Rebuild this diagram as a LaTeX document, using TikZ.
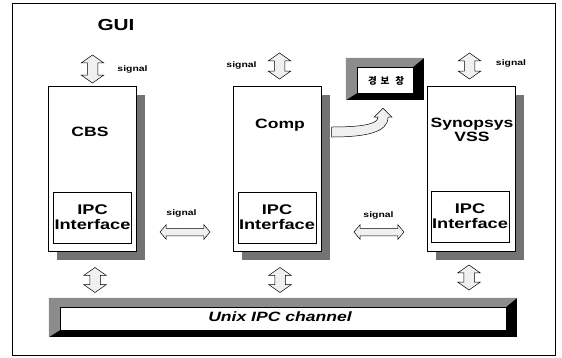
\documentclass[tikz,border=0pt]{standalone}
\usepackage{fontspec}
\setmainfont{Liberation Sans}
\newfontfamily\figfont[FakeStretch=1.3]{Liberation Sans}
\newfontfamily\krfont[LetterSpace=40]{Noto Sans CJK KR}
\usetikzlibrary{shapes.arrows,shadows,calc,positioning}

% gray/black bevel round a node
\newcommand\bevelframe[1]{%
  \fill[black!45] (#1.north west) -- (#1.north east) -- ([shift={(-11pt,-9pt)}]#1.north east)
    -- ([shift={(11pt,-9pt)}]#1.north west) -- ([shift={(11pt,7pt)}]#1.south west) -- (#1.south west) -- cycle;
  \fill[white] ([shift={(11pt,-9pt)}]#1.north west) rectangle ([shift={(-11pt,7pt)}]#1.south east);
  \draw[line width=0.4pt] ([shift={(11pt,-9pt)}]#1.north west) rectangle ([shift={(-11pt,7pt)}]#1.south east);
}

\begin{document}
\begin{tikzpicture}[x=1pt,y=-1pt,
  mainbox/.style={draw, fill=white, line width=0.6pt, minimum width=88pt, minimum height=165pt,
    inner sep=0pt, anchor=north west,
    drop shadow={shadow xshift=9pt, shadow yshift=-9pt, fill=black!55, opacity=1}},
  ipcbox/.style={draw, line width=0.6pt, minimum width=78pt, minimum height=51pt, inner sep=0pt,
    align=center, font=\figfont\bfseries\fontsize{14}{15}\selectfont},
  barbox/.style={fill=black, inner sep=0pt},
  lbl/.style={font=\figfont\bfseries\fontsize{13.5}{14}\selectfont, align=center, inner sep=0pt},
  sig/.style={font=\figfont\bfseries\fontsize{8}{9}\selectfont, inner sep=0pt},
  vsig/.style={double arrow, draw, fill=black!6, line width=0.5pt, rotate=90, inner xsep=0pt, inner ysep=5pt,
    minimum height=26pt, double arrow head extend=6pt, double arrow tip angle=110},
  hsig/.style={double arrow, draw, fill=black!6, line width=0.5pt, inner xsep=0pt, inner ysep=3.5pt,
    minimum height=50pt, double arrow head extend=3.5pt, double arrow tip angle=100}
]
\useasboundingbox (0,0) rectangle (562,357);

% outer frame
\draw[line width=0.7pt] (12,3) rectangle (555,355);

\node[font=\figfont\bfseries\fontsize{16}{16}\selectfont, inner sep=0pt] (gui) at (116,25) {GUI};

% the three tasks
\node[mainbox] (cbs) at (48,86) {};
\node[mainbox] (comp) at (233,86) {};
\node[mainbox] (vss) at (427,86) {};

\node[lbl] (cbs-t) at (90,132) {CBS};
\node[lbl] (comp-t) at (280,125) {Comp};
\node[lbl] (vss-t) at (472,130) {Synopsys\\VSS};

\node[ipcbox] (cbs-ipc) at (92.5,217.5) {IPC\\Interface};
\node[ipcbox] (comp-ipc) at (277,217.5) {IPC\\Interface};
\node[ipcbox] (vss-ipc) at (470,216.5) {IPC\\Interface};

% signals to the GUI
\node[vsig, minimum height=28pt] (up-cbs) at (92.5,69) {};
\node[vsig] (up-comp) at (279.5,66) {};
\node[vsig] (up-vss) at (469.5,66) {};
\node[sig] (s-cbs) at (132.5,69) {signal};
\node[sig] (s-comp) at (241.5,65) {signal};
\node[sig] (s-vss) at (511,63) {signal};

% signals between the interfaces
\node[hsig] (mid-a) at (185,232) {};
\node[hsig] (mid-b) at (379,232) {};
\node[sig] (s-mid-a) at (181.5,213) {signal};
\node[sig] (s-mid-b) at (378.5,215) {signal};

% alarm window
\node[barbox, minimum width=78pt, minimum height=42pt] (alarm) at (385,79) {};
\bevelframe{alarm}
\node[font=\krfont\bfseries\fontsize{9.5}{10}\selectfont, inner sep=0pt] (alarm-t) at (386,81) {경보 창};

% curved arrow Comp -> alarm
\coordinate (ctip) at ([xshift=-2pt,yshift=-8pt]alarm.south);
\coordinate (cstart) at ([xshift=10pt]comp.north east);
\draw[fill=black!6, line width=0.5pt] ($(cstart)+(0,51)$) .. controls +(35,0) and +(0,15) .. ($(ctip)+(5,9)$)
  -- ($(ctip)+(9,9)$) -- (ctip) -- ($(ctip)+(-9,9)$) -- ($(ctip)+(-5,9)$)
  .. controls +(0,7) and +(30,0) .. ($(cstart)+(0,41)$) -- cycle;

% IPC channel
\node[barbox, minimum width=468pt, minimum height=39pt] (chan) at (283,317.5) {};
\bevelframe{chan}
\node[font=\figfont\bfseries\itshape\fontsize{13.5}{14}\selectfont, inner sep=0pt] (chan-t) at (280,317) {Unix IPC channel};

\node[vsig, minimum height=25pt] (dn-cbs) at (95,280) {};
\node[vsig, minimum height=25pt] (dn-comp) at (280,280) {};
\node[vsig, minimum height=25pt] (dn-vss) at (469,277.5) {};

\end{tikzpicture}
\end{document}
